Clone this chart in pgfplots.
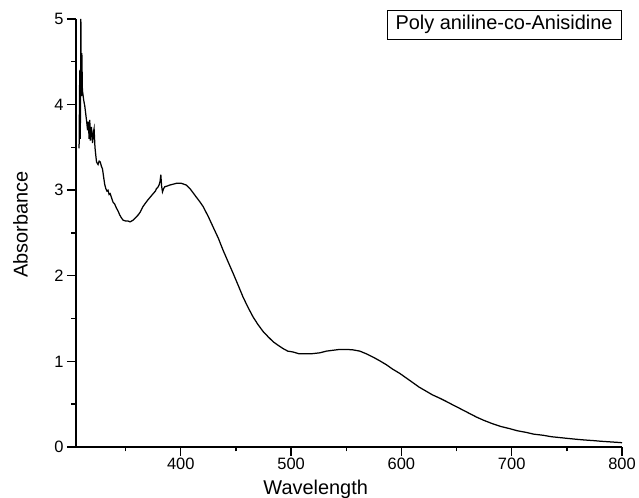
\documentclass[border=0pt]{standalone}
\usepackage{pgfplots}
\pgfplotsset{compat=1.18}
\usepackage{fontspec}
\setmainfont{Liberation Sans}
\begin{document}
\begin{tikzpicture}
\path[use as bounding box] (0,0) rectangle (639bp,498bp);
\begin{axis}[
  at={(76bp,51bp)}, anchor=south west,
  scale only axis, width=546bp, height=428bp,
  xmin=305, xmax=800, ymin=0, ymax=5,
  axis x line=bottom, axis y line=left,
  axis line style={-, line width=1.7bp},
  xtick={400,500,600,700,800},
  minor xtick={350,450,550,650,750},
  ytick={0,1,2,3,4,5},
  minor ytick={0.5,1.5,2.5,3.5,4.5},
  tick align=outside,
  major tick length=9bp, minor tick length=4.5bp,
  tick style={line width=1.4bp, black},
  ticklabel style={font=\fontsize{16.5}{19}\selectfont},
  xticklabel style={yshift=1bp},
  /pgf/number format/assume math mode=true,
  xlabel={Wavelength}, ylabel={Absorbance},
  label style={font=\fontsize{20}{24}\selectfont},
  xlabel style={at={(axis description cs:0.439,-0.112)}, anchor=base},
  ylabel style={at={(axis description cs:-0.0888,0.52)}, anchor=base},
  clip=false,
]
\addplot[black, line width=1.25bp] coordinates {
(307.8,3.49)(308.4,4.40)(308.9,3.60)(309.4,5.00)(309.9,4.10)(310.3,4.60)(310.8,4.17)
(312,4.05)(313,3.98)(314.5,3.82)(315.5,3.70)(316.2,3.80)(316.9,3.60)(317.5,3.82)
(318.0,3.58)(319,3.74)(320,3.55)(320.8,3.68)(321.4,3.72)(322.2,3.50)(323,3.40)
(323.6,3.33)(325,3.30)(326,3.34)(327,3.33)(328,3.28)(329,3.25)(330.2,3.14)
(331,3.07)(332,3.02)(333,2.99)(334,3.00)(335,2.95)(336,2.96)(337,2.92)(338.6,2.86)
(340,2.84)(341,2.81)(341.7,2.79)(343,2.76)(344.7,2.71)(346,2.68)(347.7,2.65)
(350,2.64)(352.2,2.64)(354,2.63)(356.8,2.65)(359,2.68)(361.3,2.71)(363,2.74)
(365.8,2.81)(368,2.85)(370.4,2.89)(373,2.93)(375,2.96)(377,2.99)(378,3.02)
(379,3.03)(380.3,3.06)(381.2,3.10)(381.9,3.18)(382.6,3.05)(383.4,2.98)(384.5,3.02)
(385.5,3.04)(388,3.05)(390,3.06)(393,3.07)(396,3.08)(400.6,3.08)(405,3.06)
(408.2,3.02)(410,2.99)(414,2.92)(417,2.87)(420.2,2.81)(425,2.69)(429.3,2.57)
(434,2.44)(438.3,2.30)(443,2.16)(447.4,2.03)(452,1.89)(456.5,1.75)(461,1.63)
(465.5,1.52)(470,1.43)(474.6,1.35)(479,1.29)(483.7,1.23)(488,1.19)(492.7,1.15)
(497,1.12)(501.8,1.11)(507,1.09)(512.4,1.09)(519,1.09)(526,1.10)(532,1.12)
(538,1.13)(544,1.14)(550.2,1.14)(556,1.135)(562.3,1.12)(568,1.09)(574.3,1.05)
(580,1.01)(586.5,0.96)(592,0.91)(598.5,0.86)(604,0.81)(610.6,0.75)(616,0.70)
(622.7,0.65)(628,0.61)(634.8,0.57)(641,0.53)(646.9,0.49)(653,0.45)(659,0.41)
(668,0.35)(675,0.31)(683,0.27)(690,0.24)(698,0.215)(705,0.19)(713.4,0.17)
(720,0.15)(728.5,0.137)(736,0.12)(743.6,0.11)(751,0.10)(758.8,0.09)(766,0.082)
(773.8,0.075)(781,0.067)(789,0.06)(795,0.055)(800,0.05)
};
\node[draw, line width=1bp, font=\fontsize{20}{24}\selectfont,
  minimum width=234bp, minimum height=29bp, inner sep=0pt]
  at (axis description cs:0.784,0.987) {Poly aniline-co-Anisidine};
\end{axis}
\end{tikzpicture}
\end{document}
